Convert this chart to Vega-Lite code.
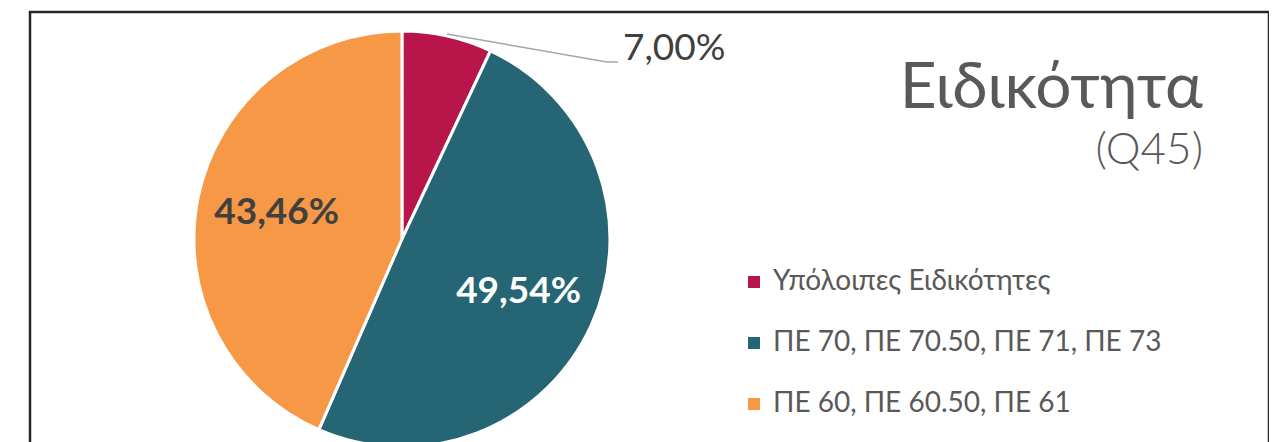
{
  "$schema": "https://vega.github.io/schema/vega-lite/v6.json",
  "width": 1239,
  "height": 440,
  "padding": {"left": 30, "top": 12, "right": 0, "bottom": 0},
  "autosize": {"type": "none"},
  "background": "white",
  "params": [
    {"name": "cx", "expr": "width*0.3002"},
    {"name": "cy", "expr": "227"}
  ],
  "title": {
    "text": "Ειδικότητα",
    "subtitle": "(Q45)",
    "anchor": "end",
    "orient": "top",
    "frame": "group",
    "dx": -66,
    "dy": 166,
    "font": "Lato",
    "fontSize": 64,
    "fontWeight": "normal",
    "color": "#595959",
    "subtitleFont": "Lato",
    "subtitleFontSize": 44,
    "subtitleFontWeight": 300,
    "subtitleColor": "#595959",
    "subtitlePadding": 8
  },
  "data": {
    "values": [
      {"cat": "Υπόλοιπες Ειδικότητες", "v": 0.07, "idx": 0},
      {"cat": "ΠΕ 70, ΠΕ 70.50, ΠΕ 71, ΠΕ 73", "v": 0.4954, "idx": 1},
      {"cat": "ΠΕ 60, ΠΕ 60.50, ΠΕ 61", "v": 0.4346, "idx": 2}
    ]
  },
  "layer": [
    {
      "transform": [{"filter": "datum.idx == 0"}],
      "mark": {"type": "rect", "fill": null, "filled": false, "stroke": "#262626", "strokeWidth": 2.5},
      "encoding": {
        "x": {"value": 0},
        "x2": {"value": "width"},
        "y": {"value": 0},
        "y2": {"value": "height"}
      }
    },
    {
      "mark": {"type": "arc", "outerRadius": 208, "stroke": "white", "strokeWidth": 3, "x": {"expr": "cx"}, "y": {"expr": "cy"}},
      "encoding": {
        "theta": {"field": "v", "type": "quantitative", "stack": true},
        "order": {"field": "idx", "type": "quantitative"},
        "color": {
          "field": "cat",
          "type": "nominal",
          "scale": {
            "domain": ["Υπόλοιπες Ειδικότητες", "ΠΕ 70, ΠΕ 70.50, ΠΕ 71, ΠΕ 73", "ΠΕ 60, ΠΕ 60.50, ΠΕ 61"],
            "range": ["#B8154A", "#266574", "#F69846"]
          },
          "legend": {
            "title": null,
            "orient": "none",
            "legendX": 710,
            "legendY": 256,
            "symbolType": "square",
            "symbolSize": 144,
            "symbolStrokeWidth": 0,
            "labelFont": "Lato",
            "labelFontSize": 28,
            "labelColor": "#595959",
            "labelOffset": 5,
            "rowPadding": 33,
            "labelLimit": 600
          }
        }
      }
    },
    {
      "mark": {"type": "text", "radius": 128, "x": {"expr": "cx"}, "y": {"expr": "cy"}, "font": "Lato", "fontSize": 37, "fontWeight": "bold", "align": "center", "baseline": "middle"},
      "encoding": {
        "theta": {"field": "v", "type": "quantitative", "stack": true},
        "order": {"field": "idx", "type": "quantitative"},
        "text": {"field": "v", "type": "quantitative", "format": ".2%"},
        "color": {"condition": {"test": "datum.idx == 1", "value": "white"}, "value": "#404040"},
        "opacity": {"condition": {"test": "datum.idx == 0", "value": 0}, "value": 1}
      }
    },
    {
      "transform": [{"filter": "datum.idx == 0"}],
      "mark": {"type": "rule", "color": "#A6A6A6", "strokeWidth": 1.5},
      "encoding": {
        "x": {"value": {"expr": "cx+45"}},
        "y": {"value": {"expr": "cy-205"}},
        "x2": {"value": {"expr": "cx+205"}},
        "y2": {"value": {"expr": "cy-177"}}
      }
    },
    {
      "transform": [{"filter": "datum.idx == 0"}],
      "mark": {"type": "rule", "color": "#A6A6A6", "strokeWidth": 1.5},
      "encoding": {
        "x": {"value": {"expr": "cx+205"}},
        "y": {"value": {"expr": "cy-177"}},
        "x2": {"value": {"expr": "cx+216"}},
        "y2": {"value": {"expr": "cy-177"}}
      }
    },
    {
      "transform": [{"filter": "datum.idx == 0"}],
      "mark": {"type": "text", "x": {"expr": "cx+221"}, "y": {"expr": "cy-190"}, "align": "left", "baseline": "middle", "font": "Lato", "fontSize": 37, "color": "#404040"},
      "encoding": {
        "text": {"field": "v", "type": "quantitative", "format": ".2%"}
      }
    }
  ],
  "config": {
    "locale": {"number": {"decimal": ",", "thousands": ".", "grouping": [3], "currency": ["", " €"]}},
    "view": {"stroke": null}
  }
}
